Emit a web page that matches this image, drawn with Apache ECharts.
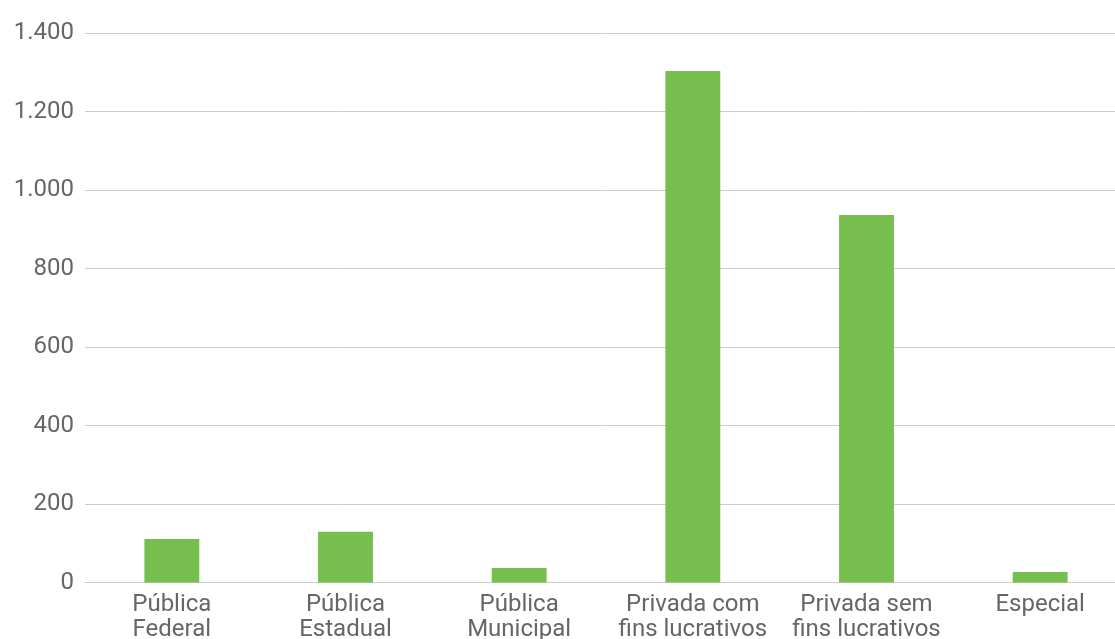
<!DOCTYPE html>
<html><head><meta charset="utf-8">
<script src="https://cdn.jsdelivr.net/npm/echarts@6/dist/echarts.min.js"></script>
<style>html,body{margin:0;padding:0;background:#fff}#c{width:1115px;height:639px}</style>
</head><body><div id="c"></div>
<script>
const categories = ['Pública\nFederal','Pública\nEstadual','Pública\nMunicipal','Privada com\nfins lucrativos','Privada sem\nfins lucrativos','Especial'];
const values = [111, 129, 37, 1303, 936, 27];
const yTicks = {min: 0, max: 1400, interval: 200};
const chart = echarts.init(document.getElementById('c'));
chart.setOption({
  animation: false,
  grid: {left: 85, width: 1042, top: 33, bottom: 56.5, containLabel: false, outerBoundsMode: 'none'},
  xAxis: {
    type: 'category', data: categories,
    axisLine: {show: true, lineStyle: {color: '#cccccc', width: 1}},
    axisTick: {show: false},
    axisLabel: {color: '#666666', fontFamily: 'Roboto', fontSize: 24, lineHeight: 25, margin: 10, interval: 0}
  },
  yAxis: {
    type: 'value', min: yTicks.min, max: yTicks.max, interval: yTicks.interval,
    axisLine: {show: false}, axisTick: {show: false},
    splitLine: {lineStyle: {color: '#cccccc', width: 1}},
    axisLabel: {color: '#666666', fontFamily: 'Roboto', fontSize: 24, margin: 11,
      formatter: v => v.toString().replace(/\B(?=(\d{3})+(?!\d))/g, '.')}
  },
  series: [{type: 'bar', data: values, barWidth: '31.6%', itemStyle: {color: '#76bf4e'}}]
});
</script></body></html>
